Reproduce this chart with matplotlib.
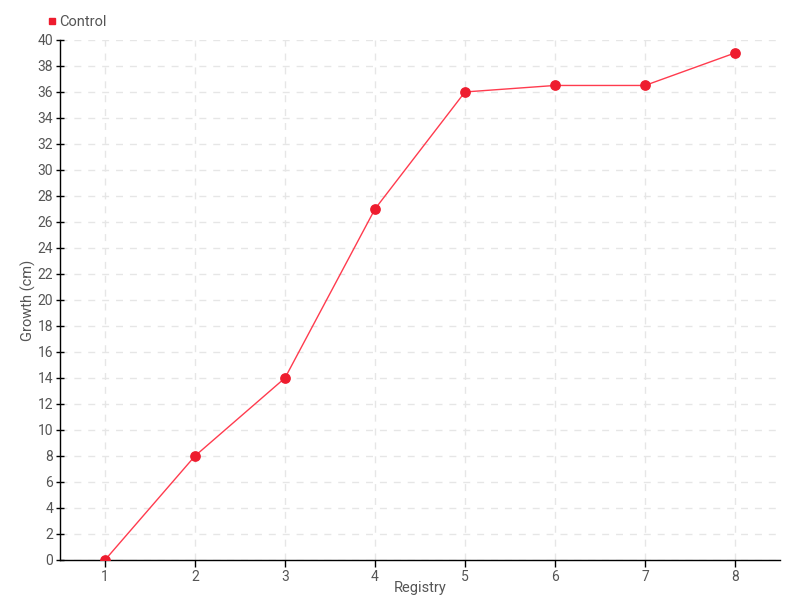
import matplotlib
matplotlib.use("Agg")
import matplotlib.pyplot as plt
from matplotlib.lines import Line2D

x_values = [1, 2, 3, 4, 5, 6, 7, 8]
growth = [0, 8, 14, 27, 36, 36.5, 36.5, 39]
series_name = "Control"
y_ticks = list(range(0, 41, 2))

plt.rcParams['font.family'] = ['Roboto', 'DejaVu Sans']
fig = plt.figure(figsize=(8, 6), dpi=100)
ax = fig.add_axes([0.075, 0.0667, 0.9, 0.8667])

color = '#ee1c2e'
ax.plot(x_values, growth, color='#ff3b4e', lw=1, zorder=3)
ax.scatter(x_values, growth, s=45, color=color, zorder=4)

ax.set_xlim(0.5, 8.5)
ax.set_ylim(0, 40)
ax.set_xticks(x_values)
ax.set_yticks(y_ticks)
ax.grid(True, color='#e6e6e6', linestyle=(0, (5, 5)), lw=1)
ax.set_axisbelow(True)
for s in ['top', 'right']:
    ax.spines[s].set_visible(False)
for s in ['left', 'bottom']:
    ax.spines[s].set_color('black')
    ax.spines[s].set_linewidth(1)
ax.tick_params(axis='both', colors='black', labelcolor='#555555', labelsize=10, length=5, width=1)
ax.tick_params(axis='y', direction='inout', length=6, pad=2)
ax.tick_params(axis='x', direction='out', length=5, pad=2)
ax.set_xlabel("Registry", color='#555555', fontsize=10.5)
ax.set_ylabel("Growth (cm)", color='#555555', fontsize=10.5)
ax.yaxis.set_label_coords(-0.034, 0.5)
ax.xaxis.set_label_coords(0.5, -0.04)

handle = Line2D([], [], marker='s', color=color, linestyle='none', markersize=5)
fig.legend([handle], [series_name], loc='center left', bbox_to_anchor=(0.058, 0.963),
           frameon=False, handletextpad=0.1, fontsize=10.5, labelcolor='#555555',
           handlelength=0.8, borderaxespad=0, borderpad=0)

fig.savefig("out.png", dpi=100)
